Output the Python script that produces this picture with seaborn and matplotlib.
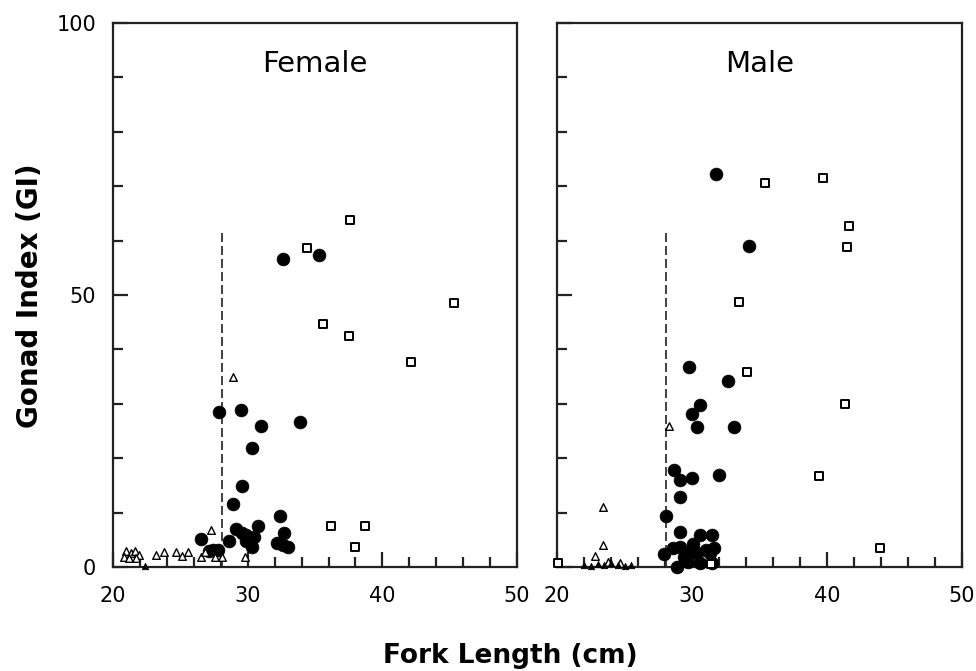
import numpy as np
import pandas as pd
import matplotlib
matplotlib.use("Agg")
import matplotlib.pyplot as plt
import seaborn as sns

# ---------------- data ----------------
# Female
f_sq_x = [37.6, 34.4, 35.6, 37.5, 45.3, 42.1, 36.2, 38.7, 38.0]
f_sq_y = [63.8, 58.6, 44.6, 42.5, 48.6, 37.6, 7.6, 7.6, 3.6]

f_ci_x = [32.6, 35.3, 27.9, 29.5, 31.0, 33.9, 30.3, 29.6, 28.9, 32.4, 30.8,
          29.1, 29.6, 29.9, 30.5, 32.7, 26.5, 28.6, 29.9, 30.3, 32.2, 32.6,
          33.0, 27.1, 27.4, 27.8]
f_ci_y = [56.7, 57.4, 28.5, 28.9, 26.0, 26.6, 21.9, 14.9, 11.6, 9.3, 7.6,
          6.9, 6.2, 5.9, 5.6, 6.3, 5.1, 4.8, 4.7, 3.6, 4.5, 4.0,
          3.6, 3.0, 3.1, 3.1]

f_tr_x = [28.9, 27.3, 21.0, 21.3, 21.6, 21.9, 20.8, 21.2, 21.7, 23.2, 23.8,
          24.7, 25.1, 25.6, 26.5, 26.8, 27.6, 28.1, 29.8]
f_tr_y = [35.0, 6.8, 2.9, 2.6, 3.0, 2.2, 1.9, 1.6, 1.7, 2.2, 2.8,
          2.8, 2.1, 2.8, 1.9, 2.8, 1.9, 1.8, 1.9]

f_ft_x = [22.4]
f_ft_y = [0.2]

# Male
m_sq_x = [35.4, 39.7, 41.6, 41.5, 33.5, 34.1, 41.3, 39.4, 43.9, 20.1, 31.4]
m_sq_y = [70.6, 71.6, 62.7, 58.8, 48.8, 35.8, 29.9, 16.7, 3.4, 0.7, 0.6]

m_ci_x = [31.8, 34.2, 29.8, 32.7, 30.6, 30.0, 30.4, 33.1, 28.7, 29.1, 30.0,
          32.0, 29.1, 28.1, 29.1, 30.6, 31.5, 27.9, 28.6, 29.1, 29.4, 28.9,
          29.7, 30.1, 30.4, 30.6, 31.0, 31.3, 31.6, 31.5, 29.6]
m_ci_y = [72.2, 59.1, 36.7, 34.2, 29.7, 28.1, 25.8, 25.8, 17.8, 16.0, 16.3,
          16.9, 12.8, 9.3, 6.4, 5.9, 5.8, 2.4, 3.4, 3.7, 1.9, 0.0,
          1.0, 4.2, 2.5, 0.7, 3.1, 2.5, 3.4, 0.7, 2.8]

m_tr_x = [28.3, 23.4, 23.4, 22.8, 23.8, 24.7]
m_tr_y = [25.9, 11.0, 4.0, 2.0, 1.0, 0.7]

m_ft_x = [22.0, 22.5, 23.0, 23.5, 24.0, 24.5, 25.0, 25.5]
m_ft_y = [0.4, 0.2, 0.6, 0.3, 0.8, 0.3, 0.2, 0.3]

cutoff_len = 28.1
cutoff_top = 62

panels = ["Female", "Male"]
x_ticks = [20, 30, 40, 50]
y_ticks = [0, 50, 100]


def frame(x, y):
    return pd.DataFrame({"length": x, "gi": y})


data = {
    "Female": dict(sq=frame(f_sq_x, f_sq_y), ci=frame(f_ci_x, f_ci_y),
                   tr=frame(f_tr_x, f_tr_y), ft=frame(f_ft_x, f_ft_y)),
    "Male": dict(sq=frame(m_sq_x, m_sq_y), ci=frame(m_ci_x, m_ci_y),
                 tr=frame(m_tr_x, m_tr_y), ft=frame(m_ft_x, m_ft_y)),
}

# ---------------- drawing ----------------
sns.set_style("ticks")
plt.rcParams["font.family"] = ["DejaVu Sans"]
plt.rcParams["text.color"] = "black"
plt.rcParams["xtick.labelcolor"] = "black"
plt.rcParams["ytick.labelcolor"] = "black"

fig = plt.figure(figsize=(9.76, 6.71), dpi=100)
ax_f = fig.add_axes([0.1158, 0.155, 0.414, 0.8107])
ax_m = fig.add_axes([0.5707, 0.155, 0.415, 0.8107])

for ax, name in zip([ax_f, ax_m], panels):
    d = data[name]
    sns.scatterplot(data=d["ci"], x="length", y="gi", ax=ax, marker="o",
                    s=85, color="black", edgecolor="black", linewidth=0.5,
                    clip_on=False, zorder=3)
    sns.scatterplot(data=d["sq"], x="length", y="gi", ax=ax, marker="s",
                    s=38, facecolor="white", edgecolor="black", linewidth=1.4,
                    clip_on=False, zorder=3)
    sns.scatterplot(data=d["tr"], x="length", y="gi", ax=ax, marker="^",
                    s=30, facecolor="white", edgecolor="black", linewidth=1.0,
                    clip_on=False, zorder=3)
    sns.scatterplot(data=d["ft"], x="length", y="gi", ax=ax, marker="^",
                    s=22, color="black", edgecolor="black", linewidth=0.5,
                    clip_on=False, zorder=3)
    ax.plot([cutoff_len, cutoff_len], [0, cutoff_top], color="#333333",
            lw=1.3, ls=(0, (5, 2.2)), zorder=2)

    ax.set_xlim(20, 50)
    ax.set_ylim(0, 100)
    ax.set_xlabel("")
    ax.set_ylabel("")
    for sp in ax.spines.values():
        sp.set_linewidth(1.6)
        sp.set_color("#222222")
        sp.set_visible(True)

    ax.set_xticks(x_ticks)
    ax.set_xticks(np.arange(20, 51, 2), minor=True)
    ax.set_xticklabels([str(t) for t in x_ticks], fontsize=15)
    ax.set_yticks(y_ticks)
    ax.set_yticks(np.arange(0, 101, 10), minor=True)
    ax.tick_params(axis="both", which="major", direction="in", length=11,
                   width=1.6, color="#222222", pad=12)
    ax.tick_params(axis="both", which="minor", direction="in", length=7,
                   width=1.6, color="#222222")
    ax.tick_params(axis="x", which="major", pad=14)
    ax.tick_params(top=False, right=False, which="both")
    ax.text(0.5, 0.925, name, transform=ax.transAxes, ha="center",
            va="center", fontsize=21, color="black")

ax_f.set_yticklabels([str(t) for t in y_ticks], fontsize=15)
ax_m.set_yticklabels([])

fig.text(0.523, 0.023, "Fork Length (cm)", ha="center", va="center",
         fontsize=19, fontweight="bold", color="black")
fig.text(0.031, 0.56, "Gonad Index (GI)", ha="center", va="center",
         rotation=90, fontsize=20, fontweight="bold", color="black")

fig.savefig("out.png", dpi=100)
